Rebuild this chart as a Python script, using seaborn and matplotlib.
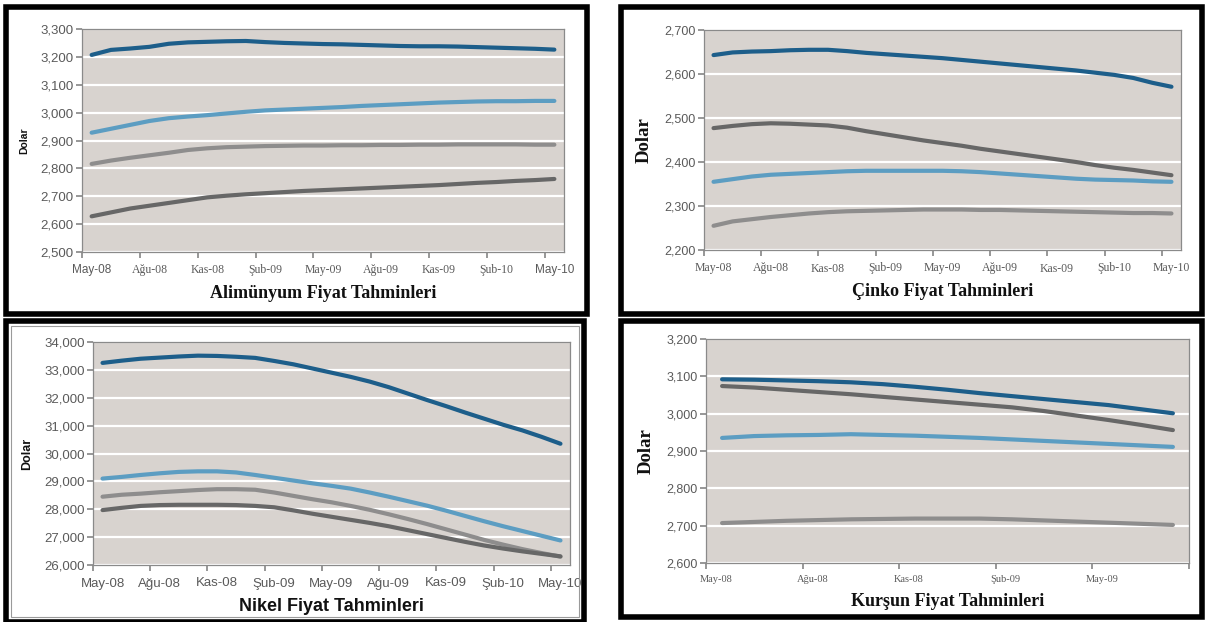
import numpy as np
import pandas as pd
import matplotlib
matplotlib.use("Agg")
import matplotlib.pyplot as plt
from matplotlib.patches import Rectangle
import seaborn as sns

# ---------------- data ----------------
months = ["May-08", "Haz-08", "Tem-08", "Ağu-08", "Eyl-08", "Eki-08", "Kas-08", "Ara-08",
          "Oca-09", "Şub-09", "Mar-09", "Nis-09", "May-09", "Haz-09", "Tem-09", "Ağu-09",
          "Eyl-09", "Eki-09", "Kas-09", "Ara-09", "Oca-10", "Şub-10", "Mar-10", "Nis-10", "May-10"]
tick_labels_25 = ["May-08", "Ağu-08", "Kas-08", "Şub-09", "May-09", "Ağu-09", "Kas-09", "Şub-10", "May-10"]
months_lead = months[:15]
tick_labels_lead = ["May-08", "Ağu-08", "Kas-08", "Şub-09", "May-09"]

alu_dark_blue = [3207, 3225, 3230, 3236, 3247, 3252, 3254, 3256, 3257, 3253, 3250, 3248, 3246,
                 3245, 3243, 3241, 3239, 3238, 3238, 3237, 3235, 3233, 3231, 3229, 3226]
alu_light_blue = [2928, 2942, 2956, 2970, 2980, 2986, 2991, 2997, 3003, 3008, 3011, 3014, 3017,
                  3020, 3024, 3027, 3030, 3033, 3036, 3038, 3040, 3041, 3041, 3042, 3042]
alu_mid_gray = [2816, 2828, 2838, 2847, 2856, 2866, 2872, 2876, 2878, 2880, 2881, 2882, 2882,
                2883, 2883, 2884, 2884, 2885, 2885, 2886, 2886, 2886, 2886, 2885, 2885]
alu_dark_gray = [2628, 2642, 2656, 2666, 2676, 2686, 2696, 2702, 2707, 2711, 2715, 2719, 2722,
                 2725, 2728, 2731, 2734, 2737, 2740, 2744, 2748, 2751, 2755, 2758, 2762]

zinc_dark_blue = [2643, 2649, 2651, 2652, 2654, 2655, 2655, 2652, 2648, 2645, 2642, 2639, 2636,
                  2632, 2628, 2624, 2620, 2616, 2612, 2608, 2603, 2598, 2591, 2580, 2571]
zinc_dark_gray = [2477, 2482, 2486, 2488, 2487, 2485, 2483, 2478, 2470, 2463, 2456, 2449, 2443,
                  2437, 2430, 2424, 2418, 2412, 2406, 2400, 2393, 2387, 2382, 2376, 2370]
zinc_light_blue = [2355, 2361, 2367, 2371, 2373, 2375, 2377, 2379, 2380, 2380, 2380, 2380, 2380,
                   2379, 2377, 2374, 2371, 2368, 2365, 2362, 2360, 2359, 2358, 2356, 2355]
zinc_mid_gray = [2255, 2265, 2270, 2275, 2279, 2283, 2286, 2288, 2289, 2290, 2291, 2292, 2292,
                 2292, 2291, 2291, 2290, 2289, 2288, 2287, 2286, 2285, 2284, 2284, 2283]

nik_dark_blue = [33250, 33330, 33400, 33440, 33480, 33510, 33500, 33470, 33430, 33320, 33200,
                 33050, 32900, 32750, 32580, 32380, 32150, 31920, 31700, 31470, 31250, 31030,
                 30830, 30600, 30350]
nik_light_blue = [29100, 29160, 29230, 29290, 29340, 29360, 29360, 29320, 29230, 29130, 29030,
                  28930, 28840, 28740, 28600, 28450, 28290, 28130, 27950, 27760, 27570, 27390,
                  27220, 27050, 26880]
nik_mid_gray = [28450, 28520, 28560, 28610, 28650, 28690, 28720, 28720, 28700, 28600, 28480,
                28360, 28250, 28120, 27980, 27820, 27650, 27470, 27280, 27090, 26900, 26730,
                26570, 26430, 26300]
nik_dark_gray = [27970, 28050, 28120, 28150, 28160, 28160, 28160, 28150, 28120, 28070, 27960,
                 27840, 27730, 27620, 27510, 27390, 27250, 27110, 26970, 26830, 26700, 26590,
                 26490, 26400, 26310]

lead_dark_blue = [3092, 3091, 3089, 3087, 3084, 3079, 3072, 3064, 3055, 3047, 3039, 3031, 3023, 3012, 3001]
lead_dark_gray = [3074, 3070, 3064, 3058, 3052, 3045, 3038, 3031, 3024, 3017, 3007, 2995, 2983, 2970, 2956]
lead_light_blue = [2935, 2940, 2942, 2943, 2945, 2943, 2941, 2938, 2935, 2931, 2927, 2923, 2919, 2915, 2911]
lead_mid_gray = [2707, 2710, 2713, 2715, 2717, 2718, 2719, 2719, 2719, 2717, 2714, 2711, 2708, 2705, 2702]

# ---------------- style ----------------
C_DBLUE = "#1d5e8a"
C_LBLUE = "#5c9dc2"
C_MGRAY = "#8e8d8d"
C_DGRAY = "#676767"
BG = "#d8d3cf"
TICKC = "#5a5a5a"
SPINEC = "#8a8a8a"

sns.set_theme(style="white")
plt.rcParams["font.family"] = ["Liberation Sans", "DejaVu Sans"]

fig = plt.figure(figsize=(12.06, 6.22), dpi=100)
W, H = 1206, 622


def px_axes(x0, y0, x1, y1):
    return fig.add_axes([x0 / W, 1 - y1 / H, (x1 - x0) / W, (y1 - y0) / H])


def frame(x0, y0, x1, y1, lw=4.0, color="black"):
    fig.patches.append(Rectangle((x0 / W, 1 - y1 / H), (x1 - x0) / W, (y1 - y0) / H,
                                 transform=fig.transFigure, fill=False, lw=lw,
                                 edgecolor=color, zorder=10))


def panel(ax, cats, series, yticks, ylim, tick_labels, label_step, xfonts, title, tfont,
          ylab_font, ylab_size, ytick_fmt, xlab_size=8.5, label_offset=0.5, title_size=13,
          ytick_size=9.5):
    pos = np.arange(len(cats)) + 0.5
    frames = []
    for name, (vals, col) in series.items():
        frames.append(pd.DataFrame({"pos": pos, "value": vals, "series": name}))
    df = pd.concat(frames, ignore_index=True)
    palette = {name: col for name, (vals, col) in series.items()}
    sns.lineplot(data=df, x="pos", y="value", hue="series", palette=palette,
                 linewidth=3.0, legend=False, ax=ax, solid_capstyle="round")
    ax.set_facecolor(BG)
    ax.set_xlim(0, len(cats))
    ax.set_ylim(*ylim)
    ax.set_yticks(yticks)
    ax.set_yticklabels([ytick_fmt(v) for v in yticks], fontsize=ytick_size, color=TICKC,
                       fontfamily="Liberation Sans")
    ax.yaxis.grid(True, color="white", lw=1.6)
    ax.set_axisbelow(True)
    major = np.arange(0, len(cats) + 1, 3)
    ax.set_xticks(major)
    ax.set_xticklabels([])
    lab_pos = np.arange(len(tick_labels)) * label_step + label_offset
    ax.set_xticks(lab_pos, minor=True)
    ax.set_xticklabels(tick_labels, minor=True, fontsize=xlab_size, color=TICKC)
    for lbl, fam in zip(ax.get_xticklabels(minor=True), xfonts):
        lbl.set_fontfamily(fam)
    ax.tick_params(axis="x", which="major", length=4, color=SPINEC, direction="out", bottom=True)
    ax.tick_params(axis="x", which="minor", length=0, pad=9)
    ax.tick_params(axis="y", length=4, color=SPINEC, direction="out", left=True, pad=2)
    for s in ax.spines.values():
        s.set_color(SPINEC)
        s.set_linewidth(0.9)
    ax.set_xlabel(title, fontsize=title_size, fontweight="bold", fontfamily=tfont,
                  color="#111111", labelpad=6)
    ax.set_ylabel("Dolar", fontsize=ylab_size, fontweight="bold", fontfamily=ylab_font,
                  color="#111111", labelpad=8)


fmt = lambda v: f"{v:,}"
SERIF = "Liberation Serif"
SANS = "Liberation Sans"

# Top-left: Aluminium
ax1 = px_axes(82, 29, 564, 252)
panel(ax1, months,
      {"A": (alu_dark_blue, C_DBLUE), "B": (alu_light_blue, C_LBLUE),
       "C": (alu_mid_gray, C_MGRAY), "D": (alu_dark_gray, C_DGRAY)},
      list(range(2500, 3301, 100)), (2500, 3300), tick_labels_25, 3,
      [SANS, SERIF, SERIF, SERIF, SERIF, SERIF, SERIF, SERIF, SANS],
      "Alimünyum Fiyat Tahminleri", SERIF, SANS, 7.5, fmt)

# Top-right: Zinc
ax2 = px_axes(704, 30, 1181, 250)
panel(ax2, months,
      {"A": (zinc_dark_blue, C_DBLUE), "B": (zinc_dark_gray, C_DGRAY),
       "C": (zinc_light_blue, C_LBLUE), "D": (zinc_mid_gray, C_MGRAY)},
      list(range(2200, 2701, 100)), (2200, 2700), tick_labels_25, 3,
      [SERIF] * 9, "Çinko Fiyat Tahminleri", SERIF, SERIF, 13.5, fmt, ytick_size=9)

# Bottom-left: Nickel
ax3 = px_axes(93, 342, 570, 565)
panel(ax3, months,
      {"A": (nik_dark_blue, C_DBLUE), "B": (nik_light_blue, C_LBLUE),
       "C": (nik_mid_gray, C_MGRAY), "D": (nik_dark_gray, C_DGRAY)},
      list(range(26000, 34001, 1000)), (26000, 34000), tick_labels_25, 3,
      [SANS] * 9, "Nikel Fiyat Tahminleri", SANS, SANS, 9, fmt, xlab_size=9.5,
      title_size=13)

# Bottom-right: Lead
ax4 = px_axes(706, 339, 1189, 563)
panel(ax4, months_lead,
      {"A": (lead_dark_blue, C_DBLUE), "B": (lead_dark_gray, C_DGRAY),
       "C": (lead_light_blue, C_LBLUE), "D": (lead_mid_gray, C_MGRAY)},
      list(range(2600, 3201, 100)), (2600, 3200), tick_labels_lead, 3,
      [SERIF] * 5, "Kurşun Fiyat Tahminleri", SERIF, SERIF, 13.5, fmt, xlab_size=7.5,
      label_offset=0.3, ytick_size=9)

# Panel frames
frame(6, 7, 587, 314)
frame(621, 7, 1202, 314)
frame(6, 321, 584, 622)
frame(11, 326, 579, 617, lw=0.8, color="#9a9a9a")
frame(621, 321, 1202, 617)

fig.savefig("out.png", dpi=100, facecolor="white")
